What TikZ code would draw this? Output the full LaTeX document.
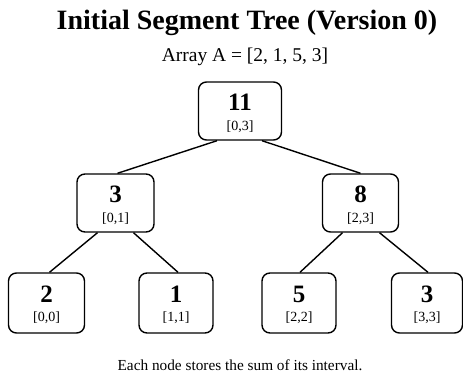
\documentclass[tikz,border=0pt]{standalone}
\usepackage{fontspec}
\setmainfont{Liberation Serif}
\begin{document}
\begin{tikzpicture}[x=1pt,y=-1pt,
  box/.style={draw=black,line width=1.4pt,rounded corners=8pt,minimum height=58pt,minimum width=75pt,inner sep=0pt},
  num/.style={font=\fontsize{25}{25}\selectfont\bfseries,inner sep=0pt},
  intv/.style={font=\fontsize{14}{14}\selectfont,inner sep=0pt},
  edge/.style={line width=1.4pt}]
\useasboundingbox (0,0) rectangle (463,374);
\node[font=\fontsize{28}{28}\selectfont\bfseries,inner sep=0pt] (title) at (247,23) {Initial Segment Tree (Version 0)};
\node[font=\fontsize{19.5}{19.5}\selectfont,inner sep=0pt] (sub) at (245,57) {Array A = [2, 1, 5, 3]};
\node[font=\fontsize{15.3}{15.3}\selectfont,inner sep=0pt] (foot) at (240,365) {Each node stores the sum of its interval.};
% boxes
\node[box,minimum width=83pt] (r) at (240,111) {};
\node[box,minimum width=77pt] (a) at (115.5,203) {};
\node[box,minimum width=76pt] (b) at (360.5,203) {};
\node[box,minimum width=76pt,minimum height=60pt] (c) at (46.5,303) {};
\node[box,minimum width=74pt,minimum height=60pt] (d) at (176,303) {};
\node[box,minimum width=74pt,minimum height=60pt] (e) at (299,303) {};
\node[box,minimum width=71pt,minimum height=60pt] (f) at (427,303) {};
% texts
\node[num] (rv) at ([yshift=8.5pt]r.center) {11};
\node[intv] (ri) at ([yshift=-16pt]r.center) {[0,3]};
\node[num] (av) at ([yshift=8.5pt]a.center) {3};
\node[intv] (ai) at ([yshift=-16pt]a.center) {[0,1]};
\node[num] (bv) at ([yshift=8.5pt]b.center) {8};
\node[intv] (bi) at ([yshift=-16pt]b.center) {[2,3]};
\node[num] (cv) at ([yshift=9pt]c.center) {2};
\node[intv] (ci) at ([yshift=-15pt]c.center) {[0,0]};
\node[num] (dv) at ([yshift=9pt]d.center) {1};
\node[intv] (di) at ([yshift=-15pt]d.center) {[1,1]};
\node[num] (ev) at ([yshift=9pt]e.center) {5};
\node[intv] (ei) at ([yshift=-15pt]e.center) {[2,2]};
\node[num] (fv) at ([yshift=9pt]f.center) {3};
\node[intv] (fi) at ([yshift=-15pt]f.center) {[3,3]};
% edges
\draw[edge] ([xshift=-23pt]r.south) -- ([xshift=2pt]a.north);
\draw[edge] ([xshift=22pt]r.south) -- (b.north);
\draw[edge] ([xshift=-18pt]a.south) -- ([xshift=3pt]c.north);
\draw[edge] ([xshift=18pt]a.south) -- ([xshift=2pt]d.north);
\draw[edge] ([xshift=-18pt]b.south) -- ([xshift=1pt]e.north);
\draw[edge] ([xshift=19pt]b.south) -- ([xshift=1pt]f.north);
\end{tikzpicture}
\end{document}
